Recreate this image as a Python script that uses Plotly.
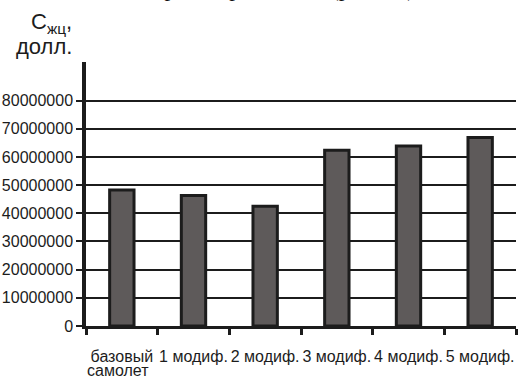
import plotly.graph_objects as go

# Life-cycle cost of the base aircraft and its modifications
categories = ["базовый самолет", "1 модиф.", "2 модиф.", "3 модиф.", "4 модиф.", "5 модиф."]
life_cycle_cost = [48300000, 46300000, 42500000, 62400000, 63900000, 66900000]

x_tick_labels = ["базовый", "1 модиф.", "2 модиф.", "3 модиф.", "4 модиф.", "5 модиф."]
x_label_second_line = "самолет"
y_tick_values = [0, 10000000, 20000000, 30000000, 40000000, 50000000, 60000000, 70000000, 80000000]
y_tick_labels = [str(v) for v in y_tick_values]

W, H = 523, 376
L, R, T, B = 86, 7, 62, 50
PW, PH = W - L - R, H - T - B

INK = "#1c1c1c"
SANS = "Liberation Sans, Arial, sans-serif"
SERIF = "Liberation Serif, Times New Roman, serif"


def px_x(px):
    return (px - L) / PW


def px_y(py):
    return (H - B - py) / PH


fig = go.Figure()
fig.add_bar(
    x=categories,
    y=life_cycle_cost,
    width=0.34,
    marker=dict(color="#5e5a5a", line=dict(color=INK, width=3)),
    hoverinfo="x+y",
)

fig.update_layout(
    width=W,
    height=H,
    margin=dict(l=L, r=R, t=T, b=B, pad=0, autoexpand=False),
    paper_bgcolor="white",
    plot_bgcolor="white",
    showlegend=False,
    font=dict(family=SANS, size=16, color=INK),
    xaxis=dict(
        type="category",
        range=[-0.5, 5.5],
        tickmode="array",
        tickvals=categories,
        ticktext=x_tick_labels,
        tickson="boundaries",
        tickangle=0,
        automargin=False,
        ticks="outside",
        ticklen=6,
        tickwidth=2.5,
        tickcolor=INK,
        showline=True,
        linewidth=3,
        linecolor=INK,
        showgrid=False,
        zeroline=False,
        tickfont=dict(family=SANS, size=16, color=INK),
        ticklabelstandoff=14,
    ),
    yaxis=dict(
        range=[0, 93700000],
        tickmode="array",
        tickvals=y_tick_values,
        ticktext=y_tick_labels,
        automargin=False,
        ticks="outside",
        ticklen=6,
        tickwidth=2,
        tickcolor=INK,
        showline=True,
        linewidth=3.5,
        linecolor=INK,
        showgrid=True,
        gridcolor=INK,
        gridwidth=1.5,
        zeroline=False,
        tickfont=dict(family=SANS, size=16, color=INK),
    ),
)

annotations = [
    # axis title: cost in dollars
    dict(
        text="С<sub>жц</sub>,",
        xref="paper", yref="paper",
        x=px_x(74), y=px_y(23),
        xanchor="right", yanchor="middle",
        showarrow=False,
        font=dict(family=SANS, size=22, color=INK),
    ),
    dict(
        text="долл.",
        xref="paper", yref="paper",
        x=px_x(74), y=px_y(46),
        xanchor="right", yanchor="middle",
        showarrow=False,
        font=dict(family=SANS, size=22, color=INK),
    ),
    # second line of the first category label
    dict(
        text=x_label_second_line,
        xref="paper", yref="paper",
        x=px_x(85), y=px_y(370),
        xanchor="left", yanchor="middle",
        showarrow=False,
        font=dict(family=SANS, size=16, color=INK),
    ),
    # caption line running above the chart
    dict(
        text="Затраты при замене (рис. 15)",
        xref="paper", yref="paper",
        x=px_x(131), y=px_y(-11.5),
        xanchor="left", yanchor="middle",
        showarrow=False,
        font=dict(family=SERIF, size=23, color="#111111"),
    ),
]
fig.update_layout(annotations=annotations)

fig.write_html("out.html")
